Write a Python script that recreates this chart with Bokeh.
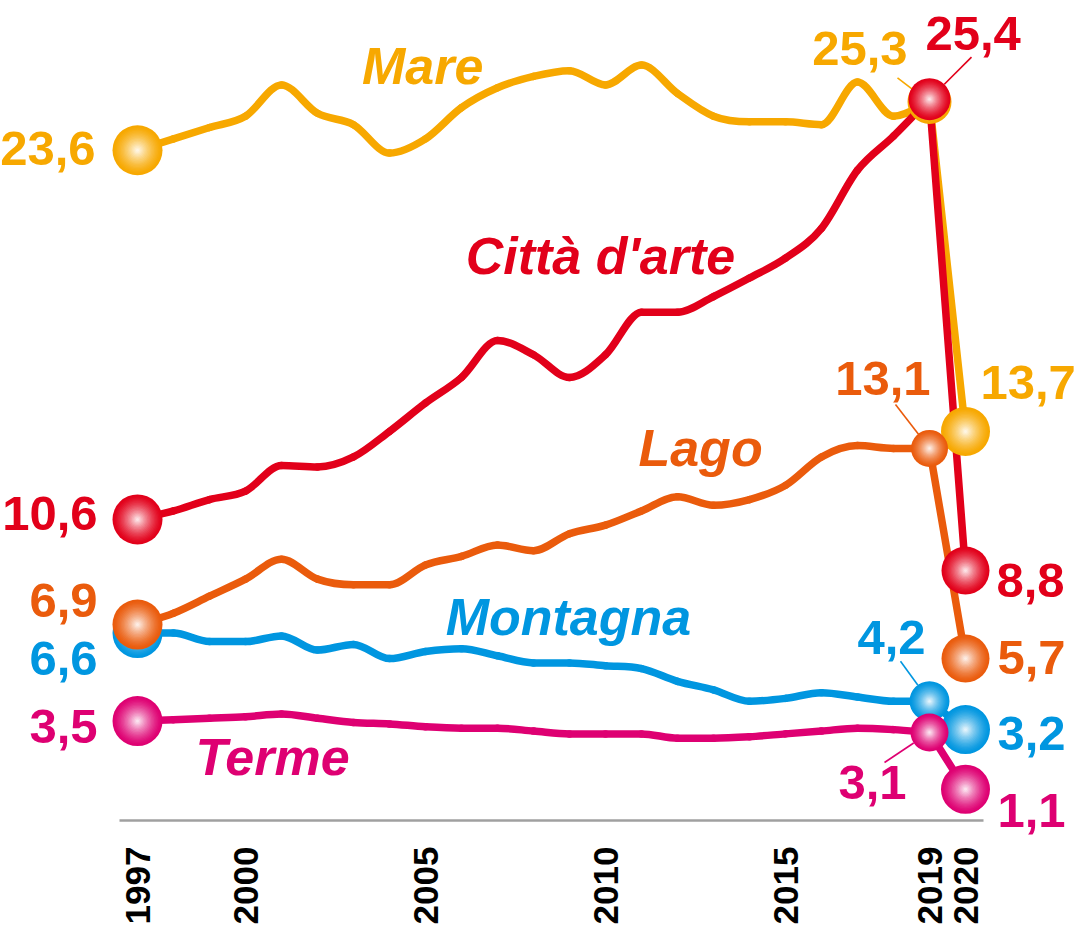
import math
from bokeh.plotting import figure
from bokeh.models import Range1d, FixedTicker, ColumnDataSource, LabelSet
from bokeh.embed import file_html
from bokeh.resources import INLINE
from bokeh.core.properties import value

# ---------------- data ----------------
years = list(range(1997, 2021))
mare = [23.6, 24.0, 24.4, 24.8, 25.9, 24.9, 24.5, 23.5, 24.0, 25.1, 25.8, 26.2,
        26.4, 25.9, 26.6, 25.6, 24.8, 24.6, 24.6, 24.5, 26.0, 24.8, 25.3, 13.7]
citta = [10.6, 10.9, 11.3, 11.6, 12.5, 12.45, 12.8, 13.7, 14.7, 15.6, 16.9, 16.4,
         15.6, 16.4, 17.9, 17.9, 18.45, 19.1, 19.8, 20.85, 22.9, 24.1, 25.4, 8.8]
lago = [6.9, 7.3, 7.9, 8.5, 9.2, 8.5, 8.3, 8.3, 9.0, 9.3, 9.7, 9.5,
        10.1, 10.4, 10.9, 11.4, 11.1, 11.3, 11.8, 12.8, 13.2, 13.1, 13.1, 5.7]
montagna = [6.6, 6.6, 6.3, 6.3, 6.5, 6.0, 6.2, 5.7, 5.95, 6.05, 5.8, 5.55,
            5.55, 5.45, 5.35, 4.9, 4.6, 4.2, 4.3, 4.5, 4.35, 4.2, 4.2, 3.2]
terme = [3.5, 3.55, 3.6, 3.65, 3.75, 3.6, 3.45, 3.4, 3.3, 3.25, 3.25, 3.15,
         3.05, 3.05, 3.05, 2.9, 2.9, 2.95, 3.05, 3.15, 3.25, 3.2, 3.1, 1.1]
series_names = ["Mare", "Città d'arte", "Lago", "Montagna", "Terme"]
tick_years = [1997, 2000, 2005, 2010, 2015, 2019, 2020]

# ---------------- styles / layout ----------------
COL = {"Mare": "#F7A800", "Città d'arte": "#E2001A", "Lago": "#EA5B0C",
       "Montagna": "#0096E0", "Terme": "#DE0072"}
DATA = {"Mare": mare, "Città d'arte": citta, "Lago": lago,
        "Montagna": montagna, "Terme": terme}
FONT = "Liberation Sans"
PX_X = 36.0    # pixels per year
PX_Y = 28.4    # pixels per unit
W, H = 1077, 930
ZERO_PX = 820  # pixel row of value 0 (axis line)
X0 = 1997 - 137 / PX_X

p = figure(width=W, height=H, output_backend="svg", toolbar_location=None,
           x_range=Range1d(X0, X0 + W / PX_X),
           y_range=Range1d(-(H - ZERO_PX) / PX_Y, ZERO_PX / PX_Y),
           min_border=0)
p.outline_line_color = None
p.xgrid.visible = False
p.ygrid.visible = False
p.yaxis.visible = False
p.background_fill_color = "white"
p.border_fill_color = "white"

ax = p.xaxis[0]
ax.fixed_location = 0
ax.ticker = FixedTicker(ticks=tick_years)
ax.major_label_overrides = {y: str(y) for y in tick_years}
ax.major_label_orientation = math.pi / 2
ax.major_label_text_font = FONT
ax.major_label_text_font_style = "bold"
ax.major_label_text_font_size = "35px"
ax.major_label_text_color = "black"
ax.major_label_standoff = 20
ax.major_tick_line_color = None
ax.minor_tick_line_color = None
ax.axis_line_color = "#A0A0A0"
ax.axis_line_width = 2.5
ax.bounds = (1996.5, 2020.5)


# ---------------- smooth lines (monotone cubic Bezier through the points) ----
def tangents(xs, ys):
    n = len(xs)
    d = [(ys[i + 1] - ys[i]) / (xs[i + 1] - xs[i]) for i in range(n - 1)]
    m = [0.0] * n
    m[0], m[-1] = d[0], d[-1]
    for i in range(1, n - 1):
        m[i] = 0.0 if d[i - 1] * d[i] <= 0 else (d[i - 1] + d[i]) / 2
    for i in range(n - 1):
        if d[i] == 0:
            m[i] = m[i + 1] = 0.0
        else:
            a, b = m[i] / d[i], m[i + 1] / d[i]
            s = a * a + b * b
            if s > 9:
                t = 3 / math.sqrt(s)
                m[i], m[i + 1] = t * a * d[i], t * b * d[i]
    return m


for name in ["Terme", "Montagna", "Lago", "Mare", "Città d'arte"]:
    ys_all = DATA[name]
    xs, ys = years[:23], ys_all[:23]          # 1997-2019: smooth
    m = tangents(xs, ys)
    src = dict(x0=[], y0=[], x1=[], y1=[], cx0=[], cy0=[], cx1=[], cy1=[])
    for i in range(len(xs) - 1):
        h = xs[i + 1] - xs[i]
        src["x0"].append(xs[i]); src["y0"].append(ys[i])
        src["x1"].append(xs[i + 1]); src["y1"].append(ys[i + 1])
        src["cx0"].append(xs[i] + h / 3); src["cy0"].append(ys[i] + m[i] * h / 3)
        src["cx1"].append(xs[i + 1] - h / 3); src["cy1"].append(ys[i + 1] - m[i + 1] * h / 3)
    p.bezier(x0="x0", y0="y0", x1="x1", y1="y1", cx0="cx0", cy0="cy0",
             cx1="cx1", cy1="cy1", source=ColumnDataSource(src),
             line_color=COL[name], line_width=7.5, line_cap="round")
    # 2019 -> 2020
    p.line(years[22:], ys_all[22:], line_color=COL[name], line_width=7.5,
           line_join="round", line_cap="round")


def fmt(v):
    return f"{v:.1f}".replace(".", ",")


# leader lines (label-side start offset in px relative to the 2019 marker)
leaders = {"Mare": (-32, -24, 22), "Città d'arte": (42, -42, 21),
           "Lago": (-34, -44, 18), "Montagna": (-29, -40, 20),
           "Terme": (-45, 30, 19)}
for name, (sx, sy, r) in leaders.items():
    x0 = years[22]
    y0 = DATA[name][22]
    d = math.hypot(sx, sy)
    ex, ey = sx * r / d, sy * r / d
    p.segment(x0=[x0 + sx / PX_X], y0=[y0 - sy / PX_Y],
              x1=[x0 + ex / PX_X], y1=[y0 - ey / PX_Y],
              line_color=COL[name], line_width=1.6)


# ---------------- spherical markers ----------------
def blend(hexc, t):
    hexc = hexc.lstrip("#")
    r, g, b = (int(hexc[i:i + 2], 16) for i in (0, 2, 4))
    r = round(r + (255 - r) * t)
    g = round(g + (255 - g) * t)
    b = round(b + (255 - b) * t)
    return f"#{r:02x}{g:02x}{b:02x}"


marker_size = {"Mare": (50, 44, 49), "Città d'arte": (50, 42, 48),
               "Lago": (50, 37, 48), "Montagna": (50, 40, 49),
               "Terme": (50, 38, 49)}
NL = 18
layers = []
for k in range(NL):
    f = 1.0 - k * (0.94 / (NL - 1))
    layers.append((f, 0.97 * (1 - f) ** 1.4))
for name in ["Mare", "Montagna", "Lago", "Terme", "Città d'arte"]:
    idx = [0, 22, 23]
    xs = [years[i] for i in idx]
    ys = [DATA[name][i] for i in idx]
    for f, t in layers:
        p.scatter(x=xs, y=ys, size=[s * f for s in marker_size[name]],
                  marker="circle", fill_color=blend(COL[name], t),
                  line_color=None)

# ---------------- value labels ----------------
# (index, x_offset, y_offset (down = +), align)
label_pos = {
    "Mare": [(0, -42, -2, "right"), (22, -22, -53, "right"), (23, 15, -49, "left")],
    "Città d'arte": [(0, -40, -6, "right"), (22, -4, -66, "left"), (23, 31, 10, "left")],
    "Lago": [(0, -40, -24, "right"), (22, 1, -70, "right"), (23, 32, -1, "left")],
    "Montagna": [(0, -40, 25, "right"), (22, -4, -64, "right"), (23, 32, 4, "left")],
    "Terme": [(0, -40, 5, "right"), (22, -23, 50, "right"), (23, 32, 21, "left")],
}
for name, specs in label_pos.items():
    for align in ("left", "right"):
        sel = [s for s in specs if s[3] == align]
        if not sel:
            continue
        src = ColumnDataSource(dict(
            x=[years[s[0]] for s in sel],
            y=[DATA[name][s[0]] for s in sel],
            t=[fmt(DATA[name][s[0]]) for s in sel],
            xo=[s[1] for s in sel],
            yo=[-s[2] for s in sel]))
        p.add_layout(LabelSet(x="x", y="y", text="t", x_offset="xo",
                              y_offset="yo", source=src,
                              text_font=value(FONT), text_font_style="bold",
                              text_font_size="49px", text_color=COL[name],
                              text_align=align, text_baseline="middle"))

# ---------------- series names (centre of text) ----------------
name_pos = {"Mare": (2004.92, 26.58), "Città d'arte": (2009.86, 19.89),
            "Lago": (2012.64, 13.13), "Montagna": (2008.97, 7.15),
            "Terme": (2000.75, 2.22)}
for name in series_names:
    x, y = name_pos[name]
    p.text(x=[x], y=[y], text=[name], text_font=value(FONT),
           text_font_style="bold italic", text_font_size="52px",
           text_color=COL[name], text_align="center",
           text_baseline="middle")

open("out.html", "w").write(file_html(p, INLINE))
